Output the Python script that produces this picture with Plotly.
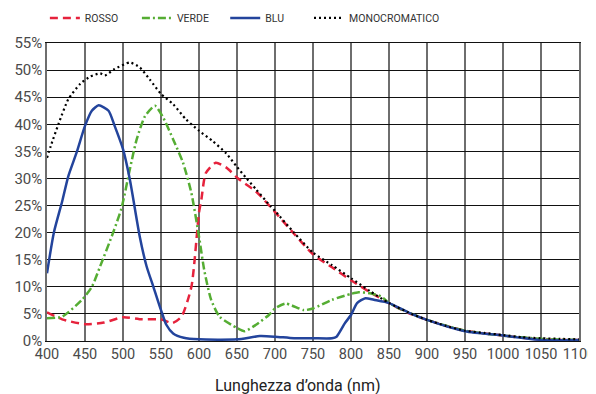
import plotly.graph_objects as go

# Wavelength (nm) and efficiency (%) per series
wl_rosso = [400, 420, 450, 475, 500, 525, 550, 565, 577, 590, 600, 603, 609, 622, 636, 653, 675, 700, 725, 750, 775, 800, 825, 850, 875, 900, 925, 950, 975, 1000, 1025, 1050, 1075, 1100]
rosso = [5.3, 4.0, 3.1, 3.4, 4.4, 4.0, 4.0, 3.3, 4.5, 10.0, 23.7, 26.0, 31.0, 32.9, 32.0, 29.8, 27.6, 23.8, 19.8, 16.0, 13.6, 11.2, 9.0, 7.0, 5.2, 3.9, 2.8, 1.9, 1.4, 1.0, 0.6, 0.3, 0.2, 0.2]

wl_verde = [400, 420, 446, 459, 470, 487, 498, 509, 518, 529, 542, 553, 566, 579, 590, 600, 607, 616, 627, 650, 660, 675, 692, 700, 714, 738, 750, 775, 800, 810, 825, 840, 850, 875, 900, 950, 1000, 1050, 1100]
verde = [4.2, 4.5, 7.6, 10.0, 13.8, 20.0, 24.5, 31.7, 37.2, 41.5, 43.4, 41.2, 37.2, 32.9, 27.3, 19.3, 13.0, 7.6, 4.5, 2.4, 1.8, 3.0, 4.8, 6.0, 6.9, 5.7, 6.0, 7.6, 8.7, 9.0, 8.8, 8.2, 7.0, 5.3, 3.9, 1.9, 1.0, 0.4, 0.2]

wl_blu = [400, 409, 420, 428, 439, 450, 459, 468, 481, 489, 500, 509, 522, 531, 540, 550, 557, 566, 580, 600, 650, 680, 700, 725, 750, 775, 781, 792, 800, 808, 819, 830, 850, 875, 900, 950, 1000, 1050, 1100]
blu = [12.5, 20.0, 25.8, 30.4, 34.8, 39.7, 42.5, 43.5, 42.5, 39.7, 35.4, 29.8, 19.3, 13.8, 10.0, 5.7, 3.0, 1.4, 0.6, 0.3, 0.3, 0.9, 0.8, 0.5, 0.5, 0.5, 0.8, 3.3, 4.8, 7.0, 7.9, 7.6, 7.0, 5.3, 3.9, 1.8, 1.0, 0.2, 0.2]

wl_mono = [400, 405, 415, 428, 444, 457, 470, 476, 489, 509, 522, 535, 550, 566, 583, 600, 618, 636, 649, 662, 675, 694, 700, 725, 750, 775, 800, 825, 850, 875, 900, 925, 950, 975, 1000, 1025, 1050, 1075, 1100]
mono = [33.8, 36.0, 40.0, 44.6, 47.5, 48.8, 49.4, 49.0, 50.2, 51.4, 50.5, 48.3, 45.6, 43.7, 40.9, 38.8, 36.9, 34.6, 32.3, 30.1, 28.0, 24.9, 24.0, 20.0, 16.3, 14.0, 11.6, 9.2, 7.0, 5.3, 3.9, 2.8, 1.9, 1.5, 1.1, 0.7, 0.5, 0.4, 0.3]

x_ticks = list(range(400, 1101, 50))
y_ticks = list(range(0, 56, 5))
y_labels = [f"{v}%" for v in y_ticks]
x_title = "Lunghezza d’onda (nm)"

fig = go.Figure()
fig.add_trace(go.Scatter(x=wl_rosso, y=rosso, name="ROSSO", mode="lines", legend="legend",
                         line=dict(color="#e6223c", width=2.5, dash="8px,5px", shape="spline", smoothing=0.6)))
fig.add_trace(go.Scatter(x=wl_verde, y=verde, name="VERDE", mode="lines", legend="legend2",
                         line=dict(color="#55ad33", width=2.5, dash="8px,3px,2px,3px", shape="spline", smoothing=0.6)))
fig.add_trace(go.Scatter(x=wl_blu, y=blu, name="BLU", mode="lines", legend="legend3",
                         line=dict(color="#23449c", width=2.5, shape="spline", smoothing=0.6)))
fig.add_trace(go.Scatter(x=wl_mono, y=mono, name="MONOCROMATICO", mode="lines", legend="legend4",
                         line=dict(color="#000000", width=2.2, dash="2px,3px", shape="spline", smoothing=0.6)))

leg_common = dict(orientation="h", xanchor="left", y=1.084, yanchor="middle",
                  font=dict(size=10.5, color="#333"), itemwidth=30,
                  bgcolor="rgba(0,0,0,0)")

fig.update_layout(
    width=596, height=394,
    margin=dict(l=39, r=25, t=35, b=61, autoexpand=False),
    paper_bgcolor="white", plot_bgcolor="white",
    font=dict(family="Roboto", color="#444"),
    showlegend=True,
    legend=dict(x=-0.004, **leg_common),
    legend2=dict(x=0.169, **leg_common),
    legend3=dict(x=0.335, **leg_common),
    legend4=dict(x=0.4925, **leg_common),
    xaxis=dict(range=[400, 1100], tickvals=x_ticks, ticktext=[str(v) for v in x_ticks],
               showgrid=True, gridcolor="#6e6e6e", gridwidth=1.5, automargin=False,
               showline=True, mirror=True, linecolor="#111", linewidth=1,
               zeroline=False, ticks="", tickfont=dict(size=14.5, color="#4a4a4a")),
    yaxis=dict(range=[0, 55], tickvals=y_ticks, ticktext=y_labels, automargin=False,
               showgrid=True, gridcolor="#111", gridwidth=1,
               showline=True, mirror=True, linecolor="#6e6e6e", linewidth=1.5,
               zeroline=False, ticks="", tickfont=dict(size=15, color="#4a4a4a")),
    annotations=[dict(text=x_title, xref="paper", yref="paper", x=0.472, y=-0.151,
                      xanchor="center", yanchor="middle", showarrow=False,
                      font=dict(size=16, color="#222"))],
)

fig.write_html("out.html")
